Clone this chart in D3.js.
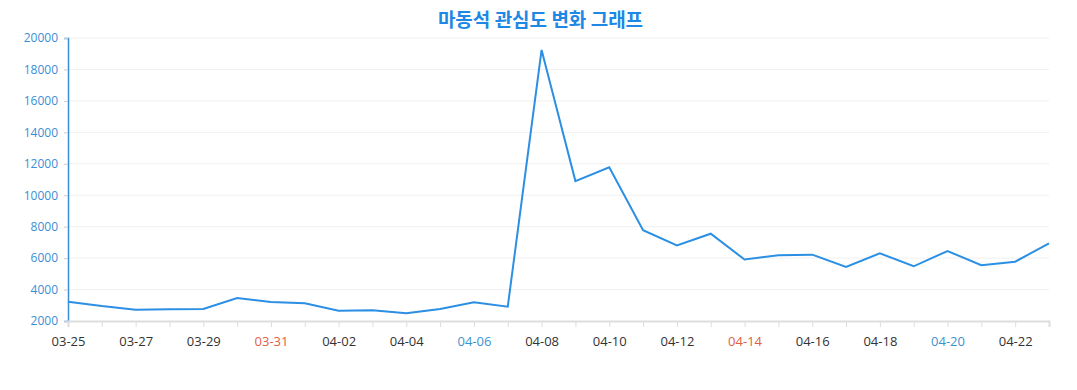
<!DOCTYPE html>
<html>
<head>
<meta charset="utf-8">
<script src="https://cdn.jsdelivr.net/npm/d3@7"></script>
<style>
  body { margin: 0; background: #fff; font-family: "Noto Sans CJK KR", "Noto Sans", sans-serif; }
</style>
</head>
<body>
<div id="chart"></div>
<script>
// dates shown on the x axis (one point per day)
const dates = ["03-25","03-26","03-27","03-28","03-29","03-30","03-31",
  "04-01","04-02","04-03","04-04","04-05","04-06","04-07","04-08","04-09",
  "04-10","04-11","04-12","04-13","04-14","04-15","04-16","04-17","04-18",
  "04-19","04-20","04-21","04-22","04-23"];
const interest = [3230,2950,2720,2740,2760,3460,3210,3130,2650,2680,2490,2760,
  3190,2910,19240,10900,11780,7770,6810,7550,5910,6180,6220,5435,6306,5480,
  6452,5543,5772,6942];
const yTicks = [2000,4000,6000,8000,10000,12000,14000,16000,18000,20000];
const sundays = ["03-31","04-07","04-14","04-21"];
const saturdays = ["03-30","04-06","04-13","04-20"];

const W = 1077, H = 390;
const margin = {top: 38, right: 28, bottom: 69, left: 68};
const width = W - margin.left - margin.right,
  height = H - margin.top - margin.bottom;

const svg = d3.select("#chart").append("svg")
  .attr("width", W).attr("height", H);

svg.append("text")
  .attr("x", W / 2 + 2).attr("y", 27)
  .attr("text-anchor", "middle")
  .style("font-size", "19px").style("font-weight", "bold")
  .style("fill", "#1e88e5")
  .text("마동석 관심도 변화 그래프");

const g = svg.append("g").attr("transform", `translate(${margin.left},${margin.top})`);

const x = d3.scalePoint().domain(dates).range([0, width]);
const y = d3.scaleLinear().domain([2000, 20000]).range([height, 0]);

// grid
g.append("g").selectAll("line")
  .data(yTicks.slice(1))
  .enter().append("line")
  .attr("x1", 0).attr("x2", width)
  .attr("y1", d => y(d)).attr("y2", d => y(d))
  .attr("stroke", "#f0f0f0").attr("stroke-width", 1);

// y axis
const yAxis = g.append("g")
  .call(d3.axisLeft(y).tickValues(yTicks).tickSize(4).tickPadding(6).tickFormat(d3.format("d")));
yAxis.select(".domain").attr("stroke", "#3a8ed6").attr("stroke-width", 1.5);
yAxis.selectAll(".tick line").attr("stroke", "#ccc");
yAxis.selectAll("text")
  .style("font-size", "12px").style("fill", "#3a8ed6")
  .style("font-family", "'Open Sans', sans-serif");

// x axis
const xAxis = g.append("g")
  .attr("transform", `translate(0,${height})`)
  .call(d3.axisBottom(x).tickSize(6).tickPadding(10)
    .tickFormat((d, i) => i % 2 === 0 ? d : ""));
xAxis.select(".domain").attr("stroke", "#ddd").attr("stroke-width", 2);
xAxis.selectAll(".tick line").attr("stroke", "#ddd");
xAxis.selectAll("text")
  .style("font-size", "13px")
  .style("font-family", "'Open Sans', sans-serif")
  .style("fill", d => sundays.includes(d) ? "#e0603f" : saturdays.includes(d) ? "#3a93d0" : "#333");

// line
const line = d3.line()
  .x((d, i) => x(dates[i]))
  .y(d => y(d));

g.append("path")
  .datum(interest)
  .attr("fill", "none")
  .attr("stroke", "#2b8fe3")
  .attr("stroke-width", 2)
  .attr("stroke-linejoin", "miter")
  .attr("d", line);
</script>
</body>
</html>
